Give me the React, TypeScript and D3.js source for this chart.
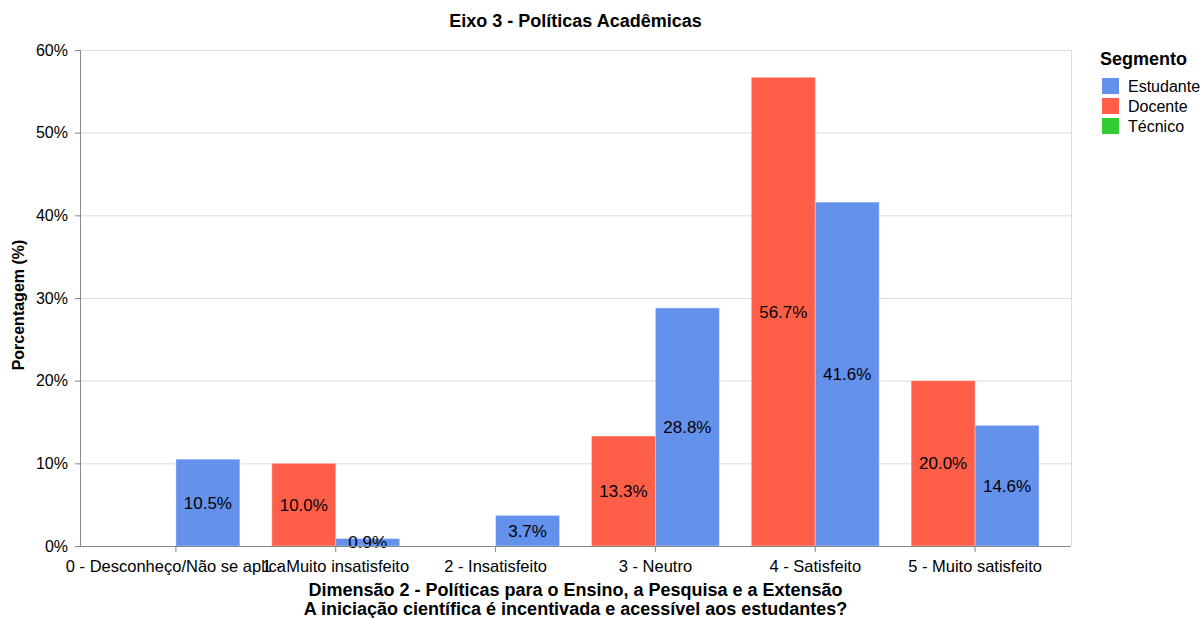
import React from "react";
import * as d3 from "d3";

const categories = [
  "0 - Desconheço/Não se aplica",
  "1 - Muito insatisfeito",
  "2 - Insatisfeito",
  "3 - Neutro",
  "4 - Satisfeito",
  "5 - Muito satisfeito",
];
const segments = ["Estudante", "Docente", "Técnico"];
const segmentColors = ["#6491EC", "#FF5F48", "#33CC33"];
const offsetOrder = ["Docente", "Estudante"];
const estudanteValues: (number | null)[] = [10.5, 0.9, 3.7, 28.8, 41.6, 14.6];
const docenteValues: (number | null)[] = [null, 10.0, null, 13.3, 56.7, 20.0];
const yTicks = [0, 10, 20, 30, 40, 50, 60];

const W = 1201, H = 618;
const L = 80, R = 1071, T = 50, B = 546;
const FONT = "Liberation Sans, Arial, sans-serif";

export default function App() {
  const x = d3.scaleBand<string>().domain(categories).range([L, R]).paddingInner(0.2).paddingOuter(0.2);
  const xo = d3.scaleBand<string>().domain(offsetOrder).range([0, x.bandwidth()]);
  const y = d3.scaleLinear().domain([0, 60]).range([B, T]);
  const color = d3.scaleOrdinal<string, string>().domain(segments).range(segmentColors);

  const bars: { cat: string; seg: string; v: number }[] = [];
  categories.forEach((c, i) => {
    const d = docenteValues[i];
    const e = estudanteValues[i];
    if (d != null) bars.push({ cat: c, seg: "Docente", v: d });
    if (e != null) bars.push({ cat: c, seg: "Estudante", v: e });
  });

  return (
    <svg width={W} height={H} style={{ position: "absolute", left: 0, top: 0, background: "#fff" }} fontFamily={FONT}>
      <rect x={0} y={0} width={W} height={H} fill="#fff" />
      {yTicks.map((t) => (
        <line key={"g" + t} x1={L} x2={R} y1={y(t) + 0.5} y2={y(t) + 0.5} stroke="#ddd" strokeWidth={1} />
      ))}
      <line x1={R + 0.5} x2={R + 0.5} y1={T} y2={B} stroke="#ddd" />
      {bars.map((b, i) => (
        <rect
          key={"b" + i}
          x={(x(b.cat) as number) + (xo(b.seg) as number)}
          y={y(b.v)}
          width={xo.bandwidth()}
          height={B - y(b.v)}
          fill={color(b.seg)}
          stroke="#fff"
          strokeOpacity={0.35}
          strokeWidth={1}
        />
      ))}
      {bars.map((b, i) => (
        <text
          key={"l" + i}
          x={(x(b.cat) as number) + (xo(b.seg) as number) + xo.bandwidth() / 2}
          y={(y(b.v) + B) / 2}
          dy="0.35em"
          textAnchor="middle"
          fontSize={17}
          fill="#000"
        >
          {b.v.toFixed(1) + "%"}
        </text>
      ))}
      <line x1={L + 0.5} x2={L + 0.5} y1={T} y2={B} stroke="#888" />
      {yTicks.map((t) => (
        <g key={"yt" + t}>
          <line x1={L - 5} x2={L} y1={y(t) + 0.5} y2={y(t) + 0.5} stroke="#888" />
          <text x={L - 12} y={y(t)} dy="0.35em" textAnchor="end" fontSize={16} fill="#000">
            {t + "%"}
          </text>
        </g>
      ))}
      <text
        transform={`translate(24, ${(T + B) / 2 + 7}) rotate(-90)`}
        textAnchor="middle"
        fontSize={16}
        fontWeight="bold"
        fill="#000"
      >
        Porcentagem (%)
      </text>
      <line x1={L} x2={R} y1={B + 0.5} y2={B + 0.5} stroke="#888" />
      {categories.map((c) => {
        const cx = (x(c) as number) + x.bandwidth() / 2;
        return (
          <g key={"xt" + c}>
            <line x1={cx} x2={cx} y1={B} y2={B + 6} stroke="#888" />
            <text x={cx} y={B + 20} dy="0.35em" textAnchor="middle" fontSize={16.5} fill="#000">
              {c}
            </text>
          </g>
        );
      })}
      <text x={(L + R) / 2} y={596} textAnchor="middle" fontSize={18} fontWeight="bold" fill="#000">
        Dimensão 2 - Políticas para o Ensino, a Pesquisa e a Extensão
      </text>
      <text x={(L + R) / 2} y={615} textAnchor="middle" fontSize={18} fontWeight="bold" fill="#000">
        A iniciação científica é incentivada e acessível aos estudantes?
      </text>
      <text x={(L + R) / 2} y={27} textAnchor="middle" fontSize={18} fontWeight="bold" fill="#000">
        Eixo 3 - Políticas Acadêmicas
      </text>
      <text x={1100} y={65} fontSize={18} fontWeight="bold" fill="#000">
        Segmento
      </text>
      {segments.map((s, i) => (
        <g key={"lg" + s}>
          <rect x={1102} y={78 + i * 20} width={17} height={16} fill={color(s)} />
          <text x={1128} y={86 + i * 20} dy="0.35em" fontSize={16} fill="#000">
            {s}
          </text>
        </g>
      ))}
    </svg>
  );
}
